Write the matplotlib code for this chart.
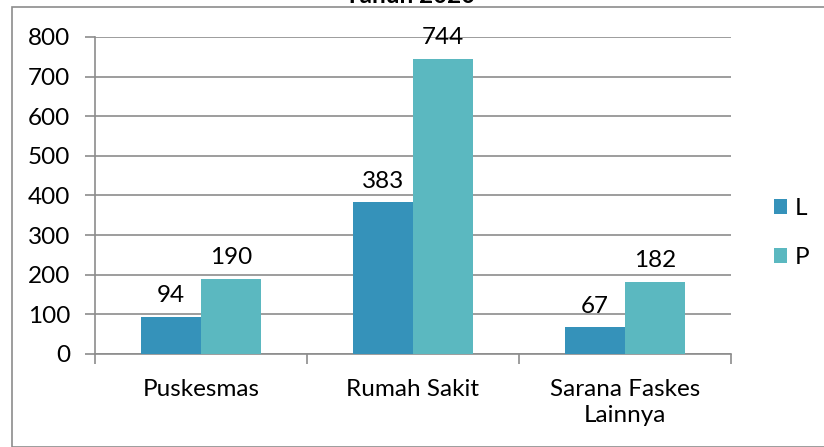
import matplotlib
matplotlib.use("Agg")
import matplotlib.pyplot as plt
import numpy as np
from matplotlib.patches import Rectangle

categories = ["Puskesmas", "Rumah Sakit", "Sarana Faskes\nLainnya"]
series_names = ["L", "P"]
values_L = [94, 383, 67]
values_P = [190, 744, 182]
yticks = [0, 100, 200, 300, 400, 500, 600, 700, 800]

col_L = "#3592BA"
col_P = "#5BB8C0"
gray = "#8C8C8C"

plt.rcParams['font.family'] = ['Lato', 'DejaVu Sans']
FS = 17.5

W, H = 824, 447
fig = plt.figure(figsize=(W / 100, H / 100), dpi=100)

# outer chart border
fig.patches.append(Rectangle((12 / W, 0), 1.0, 1 - 7 / H, transform=fig.transFigure,
                             fill=False, edgecolor=gray, linewidth=1.2, zorder=0))

fig.text(410 / W, 1 - 3 / H, "Tahun 2020", ha="center", va="baseline", fontsize=FS,
         fontweight="bold")

ax = fig.add_axes([95 / W, 1 - 354 / H, (731 - 95) / W, (354 - 37) / H])

x = np.arange(len(categories))
bw = 60 / 212.0
b1 = ax.bar(x - bw / 2, values_L, bw, color=col_L, label=series_names[0], zorder=3,
            edgecolor="none")
b2 = ax.bar(x + bw / 2, values_P, bw, color=col_P, label=series_names[1], zorder=3,
            edgecolor="none")

for bars, vals in ((b1, values_L), (b2, values_P)):
    for r, v in zip(bars, vals):
        ax.text(r.get_x() + r.get_width() / 2, v + 27, str(v), ha="center", va="bottom",
                fontsize=FS, color="#000000")

ax.set_xlim(-0.5, 2.5)
ax.set_ylim(0, 800)
ax.set_yticks(yticks)
ax.set_yticklabels([str(t) for t in yticks], fontsize=FS)
ax.yaxis.grid(True, color=gray, linewidth=1.2, zorder=0)
ax.set_axisbelow(True)

ax.set_xticks([-0.5, 0.5, 1.5, 2.5])
ax.set_xticklabels([])
ax.set_xticks(x, minor=True)
ax.set_xticklabels(categories, minor=True, fontsize=FS, linespacing=1.3)
ax.tick_params(axis="x", which="minor", length=0, pad=18)
ax.tick_params(axis="x", which="major", length=7, width=1.2, color=gray, direction="out")
ax.tick_params(axis="y", length=7, width=1.2, color=gray, direction="out", pad=11)

for s in ["top", "right"]:
    ax.spines[s].set_visible(False)
for s in ["left", "bottom"]:
    ax.spines[s].set_color(gray)
    ax.spines[s].set_linewidth(1.2)

leg = fig.legend(handles=[b1, b2], labels=series_names, loc="center left",
                 bbox_to_anchor=(752 / W, 1 - 233 / H), frameon=False, fontsize=FS,
                 handlelength=0.55, handleheight=0.55, handletextpad=0.3,
                 labelspacing=1.15)

fig.savefig("out.png", dpi=100)
